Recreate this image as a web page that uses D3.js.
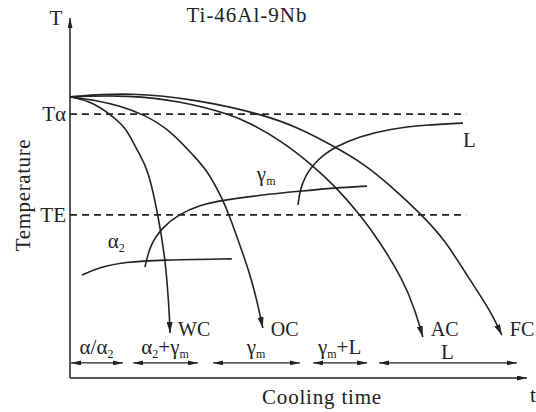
<!DOCTYPE html>
<html>
<head>
<meta charset="utf-8">
<script src="https://cdn.jsdelivr.net/npm/d3@7"></script>
<style>
  body { margin: 0; background: #fff; }
</style>
</head>
<body>
<div id="chart"></div>
<script>
const width = 536;
const height = 412;

// cooling curves, [time, temperature] in arbitrary 0-100 units
const coolWC = [[0,78.1],[4.4,76.9],[8.8,73.3],[12.0,69.7],[13.3,66.7],[15.3,61.9],[17.1,57.8],[19.3,45.3],[20.8,33.1],[21.2,27.2],[21.7,18.9],[21.9,12.5]];
const coolOC = [[0,78.1],[6.6,76.9],[10.9,75.6],[16.0,73.3],[21.9,68.9],[26.9,61.9],[30.0,57.8],[33.5,49.4],[34.8,45.3],[37.2,36.9],[39.8,27.2],[41.1,20.3],[42.2,13.9]];
const coolAC = [[0,78.1],[13.1,78.6],[24.1,76.9],[35.0,73.3],[39.4,70.8],[46.0,66.1],[53.0,59.2],[58.0,53.3],[63.5,45.3],[67.8,37.8],[72.9,27.2],[75.5,18.9],[77.2,11.4]];
const coolFC = [[0,78.1],[13.1,79.4],[28.4,77.2],[42.0,73.3],[50.3,69.4],[58.0,64.2],[64.1,59.7],[70.0,53.6],[77.0,45.3],[82.1,38.3],[87.5,27.2],[91.9,18.9],[94.5,11.9]];
const coolNames = ["WC", "OC", "AC", "FC"];

// transformation start lines
const lineAlpha2 = [[2.6,28.6],[6.6,30.8],[12.0,32.2],[19.7,32.8],[35.4,33.1]];
const lineGammaM = [[16.4,30.8],[17.5,36.9],[20.1,41.7],[23.6,45.3],[28.4,48.1],[33.5,49.4],[41.6,50.8],[50.3,51.9],[58.0,52.8],[65.0,53.3]];
const lineL = [[49.9,48.1],[50.3,52.2],[51.6,56.4],[53.2,59.2],[55.4,61.9],[58.0,64.2],[63.5,67.2],[70.0,69.2],[77.7,70.3],[86.0,70.8]];

// reference temperatures
const refTemps = [73.3, 45.3];
const refNames = ["Tα", "TE"];
const refEnd = 86.7;

// resulting microstructure ranges on the time axis
const phaseStart = [0, 13.6, 31.1, 53.0, 67.4];
const phaseEnd = [11.6, 28.0, 50.3, 65.0, 97.8];
const phaseNames = [
  [["α/α"], ["2", 1]],
  [["α"], ["2", 1], ["+γ"], ["m", 1]],
  [["γ"], ["m", 1]],
  [["γ"], ["m", 1], ["+L"]],
  [["L"]]
];
const phaseLevel = 4.2;

const svg = d3.select("#chart")
  .append("svg")
  .attr("width", width)
  .attr("height", height)
  .style("font-family", "'Liberation Serif', 'DejaVu Serif', serif");

const x = d3.scaleLinear().domain([0, 100]).range([70, 527]);
const y = d3.scaleLinear().domain([0, 100]).range([378, 18]);

const ink = "#222";
const fs = 21;

// arrow heads
const defs = svg.append("defs");
function marker(id, w, h) {
  defs.append("marker")
    .attr("id", id)
    .attr("viewBox", `0 0 ${w} ${h}`)
    .attr("refX", w)
    .attr("refY", h / 2)
    .attr("markerWidth", w)
    .attr("markerHeight", h)
    .attr("markerUnits", "userSpaceOnUse")
    .attr("orient", "auto-start-reverse")
    .append("path")
    .attr("d", `M0,0L${w},${h / 2}L0,${h}Z`)
    .attr("fill", ink);
}
marker("head", 11, 6);
marker("small", 10, 5);

function rich(sel, parts) {
  let shift = 0;
  parts.forEach(([t, sub]) => {
    const s = sub ? 4 : 0;
    sel.append("tspan")
      .attr("dy", s - shift)
      .attr("font-size", sub ? 12 : null)
      .text(t);
    shift = s;
  });
}

function label(px, py, anchor) {
  return svg.append("text")
    .attr("x", px).attr("y", py)
    .attr("text-anchor", anchor || "start")
    .attr("font-size", fs)
    .attr("fill", ink);
}

// axes
svg.append("line")
  .attr("x1", x(0)).attr("y1", y(0))
  .attr("x2", x(100)).attr("y2", y(0))
  .attr("stroke", ink).attr("stroke-width", 1.5)
  .attr("marker-end", "url(#small)");
svg.append("line")
  .attr("x1", x(0)).attr("y1", y(0))
  .attr("x2", x(0)).attr("y2", y(100))
  .attr("stroke", ink).attr("stroke-width", 1.5)
  .attr("marker-end", "url(#small)");

label(x(0) - 14, y(100) + 7, "middle").text("T");
label(x(100) + 6, 402, "middle").text("t");
label(322, 404, "middle").attr("letter-spacing", 0.8).text("Cooling time");
label(0, 0, "middle")
  .attr("transform", "translate(30,195) rotate(-90)")
  .attr("letter-spacing", 0.6)
  .text("Temperature");
label(247, 22, "middle").attr("letter-spacing", 1).text("Ti-46Al-9Nb");

// dashed reference temperatures
refTemps.forEach((t, i) => {
  svg.append("line")
    .attr("x1", x(0)).attr("x2", x(refEnd))
    .attr("y1", y(t)).attr("y2", y(t))
    .attr("stroke", ink).attr("stroke-width", 1.6)
    .attr("stroke-dasharray", "7,5");
  label(x(0) - 4, y(t) + 7, "end").text(refNames[i]);
});

const line = d3.line()
  .x(d => x(d[0]))
  .y(d => y(d[1]))
  .curve(d3.curveBasis);

// transformation lines
[lineAlpha2, lineGammaM, lineL].forEach(pts => {
  svg.append("path")
    .attr("d", line(pts))
    .attr("fill", "none")
    .attr("stroke", ink).attr("stroke-width", 1.6);
});

label(x(lineAlpha2[2][0]) - 17, y(lineAlpha2[4][1]) - 11).call(rich, [["α"], ["2", 1]]);
label(x(lineGammaM[7][0]) - 43, y(lineGammaM[7][1]) - 10).call(rich, [["γ"], ["m", 1]]);
label(x(lineL[lineL.length - 1][0]), y(lineL[lineL.length - 1][1]) + 24).text("L");

// cooling curves
[coolWC, coolOC, coolAC, coolFC].forEach((pts, i) => {
  svg.append("path")
    .attr("d", line(pts))
    .attr("fill", "none")
    .attr("stroke", ink).attr("stroke-width", 1.6)
    .attr("marker-end", "url(#head)");
  const end = pts[pts.length - 1];
  label(x(end[0]) + 8, 336).attr("font-size", 20).text(coolNames[i]);
});

// phase ranges
phaseStart.forEach((s, i) => {
  svg.append("line")
    .attr("x1", x(s) + 1).attr("x2", x(phaseEnd[i]))
    .attr("y1", y(phaseLevel)).attr("y2", y(phaseLevel))
    .attr("stroke", ink).attr("stroke-width", 1.3)
    .attr("marker-start", "url(#small)")
    .attr("marker-end", "url(#small)");
  const last = i === phaseStart.length - 1;
  label(x((s + phaseEnd[i]) / 2), y(phaseLevel) - (last ? 4 : 9), "middle")
    .call(rich, phaseNames[i]);
});
</script>
</body>
</html>
